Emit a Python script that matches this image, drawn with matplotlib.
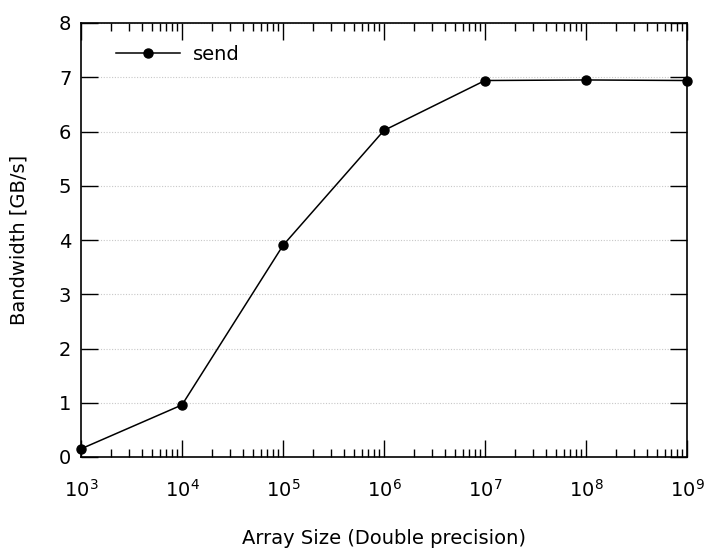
import matplotlib
matplotlib.use("Agg")
import matplotlib.pyplot as plt
from matplotlib.ticker import LogLocator, NullFormatter

# data
sizes = [1e3, 1e4, 1e5, 1e6, 1e7, 1e8, 1e9]
bandwidth = [0.15, 0.96, 3.90, 6.02, 6.94, 6.95, 6.94]

fs = 14
fig = plt.figure(figsize=(7.05, 5.49), dpi=100)
ax = fig.add_axes([81 / 705, 1 - 457 / 549, (687 - 81) / 705, (457 - 23) / 549])

ax.plot(sizes, bandwidth, color="black", lw=1.1, marker="o", ms=6.5, label="send",
        clip_on=False, zorder=3)

ax.set_xscale("log")
ax.set_xlim(1e3, 1e9)
ax.set_ylim(0, 8)
ax.set_yticks(range(0, 9))
ax.xaxis.set_major_locator(LogLocator(base=10, numticks=20))
ax.xaxis.set_minor_locator(LogLocator(base=10, subs=range(2, 10), numticks=20))
ax.xaxis.set_minor_formatter(NullFormatter())

ax.grid(axis="y", color="#c8c8c8", linestyle=(0, (1, 1.5)), lw=0.8)
ax.tick_params(which="both", direction="in", top=True, right=True, labelsize=fs, width=1)
ax.tick_params(which="major", length=12, pad=16)
ax.tick_params(which="minor", length=5.5)
ax.tick_params(axis="y", which="major", pad=7)
for s in ax.spines.values():
    s.set_linewidth(1.2)

ax.set_xlabel("Array Size (Double precision)", fontsize=fs, labelpad=20)
ax.set_ylabel("Bandwidth [GB/s]", fontsize=fs, labelpad=22)

ax.legend(loc="upper left", bbox_to_anchor=(0.025, 0.995), frameon=False, fontsize=fs,
          handlelength=3.3, borderaxespad=0.6, handletextpad=0.7)

fig.savefig("out.png", dpi=100)
